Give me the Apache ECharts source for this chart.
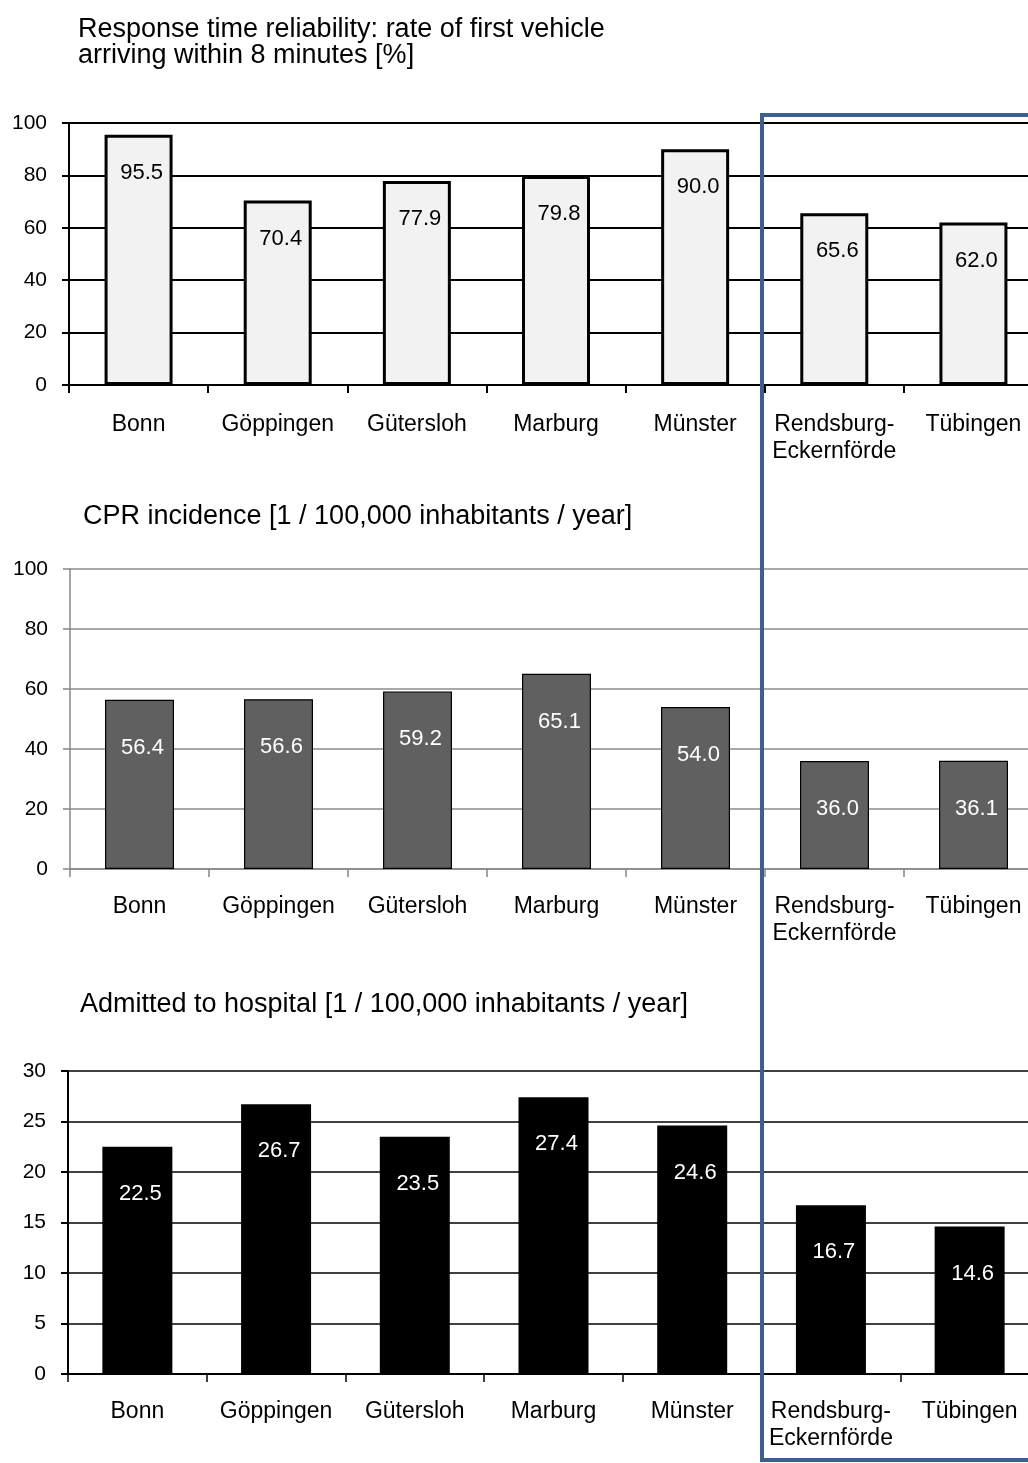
<!DOCTYPE html>
<html>
<head>
<meta charset="utf-8">
<script src="https://cdn.jsdelivr.net/npm/echarts@6/dist/echarts.min.js"></script>
<style>
html,body{margin:0;padding:0;background:#fff;}
#main{width:1028px;height:1463px;}
</style>
</head>
<body>
<div id="main"></div>
<script>
var categories = ['Bonn', 'Göppingen', 'Gütersloh', 'Marburg', 'Münster', 'Rendsburg-\nEckernförde', 'Tübingen'];
var responseRate = [95.5, 70.4, 77.9, 79.8, 90.0, 65.6, 62.0];
var cprIncidence = [56.4, 56.6, 59.2, 65.1, 54.0, 36.0, 36.1];
var admitted = [22.5, 26.7, 23.5, 27.4, 24.6, 16.7, 14.6];

var titles = [
  'Response time reliability: rate of first vehicle\narriving within 8 minutes [%]',
  'CPR incidence [1 / 100,000 inhabitants / year]',
  'Admitted to hospital [1 / 100,000 inhabitants / year]'
];

var FONT = "'Liberation Sans', Arial, sans-serif";
var chart = echarts.init(document.getElementById('main'), null, {renderer: 'canvas'});

function xAxisFor(idx, lineColor, margin) {
  return {
    type: 'category', gridIndex: idx, data: categories, boundaryGap: true,
    axisLine: {show: true, lineStyle: {color: lineColor, width: idx === 1 ? 1.5 : 2}},
    axisTick: {show: true, alignWithLabel: false, length: 8, lineStyle: {color: lineColor, width: idx === 0 ? 2 : 1.5}},
    axisLabel: {color: '#000', fontSize: 23, fontFamily: FONT, margin: margin, lineHeight: 27, interval: 0, align: 'center', verticalAlign: 'top', hideOverlap: false},
    splitLine: {show: false}
  };
}
function yAxisFor(idx, max, interval, lineColor, gridColor, gridWidth, margin) {
  return {
    type: 'value', gridIndex: idx, min: 0, max: max, interval: interval,
    axisLine: {show: true, lineStyle: {color: lineColor, width: idx === 1 ? 1.5 : 2}},
    axisTick: {show: true, inside: false, length: 7, lineStyle: {color: lineColor, width: idx === 1 ? 1.5 : 2}},
    axisLabel: {color: '#000', fontSize: 21, fontFamily: FONT, margin: margin},
    splitLine: {show: true, lineStyle: {color: gridColor, width: gridWidth}}
  };
}

var titleStyle = {fontSize: 27, fontWeight: 'normal', color: '#000', fontFamily: FONT, lineHeight: 26};

var option = {
  backgroundColor: '#fff',
  animation: false,
  title: [
    {text: titles[0], left: 73, top: 12, textStyle: titleStyle},
    {text: titles[1], left: 78, top: 499, textStyle: titleStyle},
    {text: titles[2], left: 75, top: 987, textStyle: titleStyle}
  ],
  grid: [
    {left: 69, top: 123, height: 262, width: 974, outerBoundsMode: 'none', containLabel: false},
    {left: 70, top: 569, height: 300, width: 973, outerBoundsMode: 'none', containLabel: false},
    {left: 68, top: 1071, height: 303, width: 971, outerBoundsMode: 'none', containLabel: false}
  ],
  xAxis: [
    xAxisFor(0, '#000', 26),
    xAxisFor(1, '#868686', 24),
    xAxisFor(2, '#000', 24)
  ],
  yAxis: [
    yAxisFor(0, 100, 20, '#000', '#000', 2, 22),
    yAxisFor(1, 100, 20, '#868686', '#8c8c8c', 1.5, 22),
    yAxisFor(2, 30, 5, '#000', '#000', 1.5, 22)
  ],
  series: [
    {
      type: 'bar', xAxisIndex: 0, yAxisIndex: 0, data: responseRate, barWidth: 68,
      itemStyle: {color: '#f2f2f2', borderColor: '#000', borderWidth: 3},
      label: {show: true, position: 'insideTop', distance: 27, offset: [3, 0], color: '#000', fontSize: 22, fontFamily: FONT,
        formatter: function (p) { return p.value.toFixed(1); }}
    },
    {
      type: 'bar', xAxisIndex: 1, yAxisIndex: 1, data: cprIncidence, barWidth: 69,
      itemStyle: {color: '#606060', borderColor: '#000', borderWidth: 1.2},
      label: {show: true, position: 'insideTop', distance: 37, offset: [3, 0], color: '#fff', fontSize: 22, fontFamily: FONT,
        formatter: function (p) { return p.value.toFixed(1); }}
    },
    {
      type: 'bar', xAxisIndex: 2, yAxisIndex: 2, data: admitted, barWidth: 70,
      itemStyle: {color: '#000'},
      label: {show: true, position: 'insideTop', distance: 36, offset: [3, 0], color: '#fff', fontSize: 22, fontFamily: FONT,
        formatter: function (p) { return p.value.toFixed(1); }}
    }
  ],
  graphic: [
    {type: 'rect', z: 100, silent: true,
      shape: {x: 762, y: 115, width: 320, height: 1345},
      style: {fill: 'none', stroke: '#3c5f8e', lineWidth: 4}}
  ]
};
chart.setOption(option);
</script>
</body>
</html>
